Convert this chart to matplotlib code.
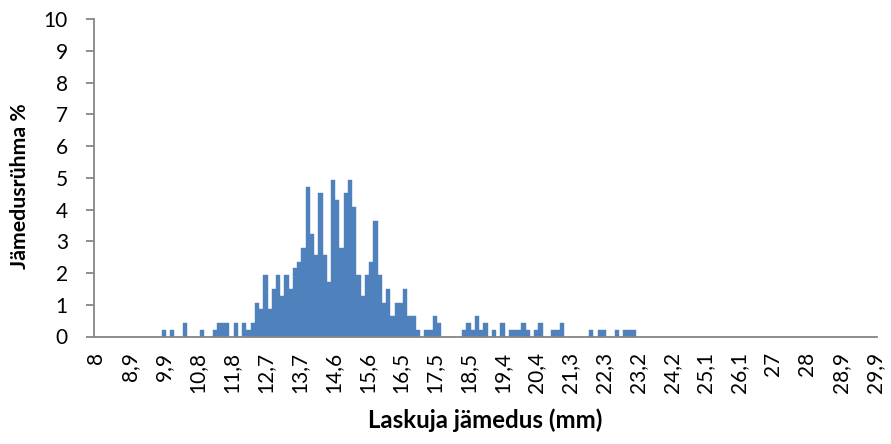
import matplotlib
matplotlib.use("Agg")
import matplotlib.pyplot as plt

plt.rcParams['font.family'] = ['Lato', 'DejaVu Sans']

# Share (%) of each diameter group, 185 groups (rows of 8 start at a labelled group)
percent = [
    0, 0, 0, 0, 0, 0, 0, 0,                              # 8
    0, 0, 0, 0, 0, 0, 0, 0,                              # 8,9
    0.21, 0, 0.21, 0, 0, 0.43, 0, 0,                     # 9,9
    0, 0.21, 0, 0, 0.21, 0.43, 0.43, 0.43,               # 10,8
    0, 0.43, 0, 0.43, 0.21, 0.43, 1.07, 0.86,            # 11,8
    1.93, 0.86, 1.50, 1.93, 1.29, 1.93, 1.50, 2.15,      # 12,7
    2.36, 2.79, 4.72, 3.22, 2.58, 4.51, 2.58, 1.72,      # 13,7
    4.94, 4.29, 2.79, 4.51, 4.94, 4.08, 1.93, 1.29,      # 14,6
    1.93, 2.36, 3.65, 1.93, 1.07, 1.50, 0.64, 1.07,      # 15,6
    1.07, 1.50, 0.64, 0.64, 0.21, 0, 0.21, 0.21,         # 16,5
    0.64, 0.43, 0, 0, 0, 0, 0, 0.21,                     # 17,5
    0.43, 0.21, 0.64, 0.21, 0.43, 0, 0.21, 0,            # 18,5
    0.43, 0, 0.21, 0.21, 0.21, 0.43, 0.21, 0,            # 19,4
    0.21, 0.43, 0, 0, 0.21, 0.21, 0.43, 0,               # 20,4
    0, 0, 0, 0, 0, 0.21, 0, 0.21,                        # 21,3
    0.21, 0, 0, 0.21, 0, 0.21, 0.21, 0.21,               # 22,3
    0, 0, 0, 0, 0, 0, 0, 0,                              # 23,2
    0, 0, 0, 0, 0, 0, 0, 0,                              # 24,2
    0, 0, 0, 0, 0, 0, 0, 0,                              # 25,1
    0, 0, 0, 0, 0, 0, 0, 0,                              # 26,1
    0, 0, 0, 0, 0, 0, 0, 0,                              # 27
    0, 0, 0, 0, 0, 0, 0, 0,                              # 28
    0, 0, 0, 0, 0, 0, 0, 0,                              # 28,9
    0,                                                   # 29,9
]

tick_labels = ["8", "8,9", "9,9", "10,8", "11,8", "12,7", "13,7", "14,6",
               "15,6", "16,5", "17,5", "18,5", "19,4", "20,4", "21,3", "22,3",
               "23,2", "24,2", "25,1", "26,1", "27", "28", "28,9", "29,9"]
label_every = 8

x_title = "Laskuja jämedus (mm)"
y_title = "Jämedusrühma %"

bar_color = "#4F81BD"
axis_color = "#868686"

fig = plt.figure(figsize=(8.91, 4.44), dpi=100)
ax = fig.add_axes([94 / 891, 1 - 336.5 / 444, (877 - 94) / 891, (336.5 - 19) / 444])

n = len(percent)
ax.bar(range(n), percent, width=1.0, color=bar_color, edgecolor=bar_color, linewidth=0.3)

ax.set_xlim(-0.5, n - 0.5)
ax.set_ylim(0, 10)
ax.set_yticks(range(0, 11))
ax.set_yticklabels([str(v) for v in range(0, 11)])
ax.set_xticks(list(range(0, n, label_every)))
ax.set_xticklabels(tick_labels, rotation=90)

for side in ("top", "right"):
    ax.spines[side].set_visible(False)
for side in ("left", "bottom"):
    ax.spines[side].set_color(axis_color)
    ax.spines[side].set_linewidth(1.3)

ax.tick_params(axis="y", direction="out", length=5.8, width=1.3, color=axis_color,
               labelsize=15, pad=13, labelcolor="black")
ax.tick_params(axis="x", length=0, labelsize=15, pad=11, labelcolor="black")

ax.set_xlabel(x_title, fontsize=17.3, fontweight="bold")
ax.set_ylabel(y_title, fontsize=15.3, fontweight="bold")
ax.xaxis.set_label_coords(0.5, -0.263)
ax.xaxis.label.set_va("center")
ax.yaxis.set_label_coords(-0.0945, 0.475)
ax.yaxis.label.set_va("center")

fig.savefig("out.png", dpi=100)
